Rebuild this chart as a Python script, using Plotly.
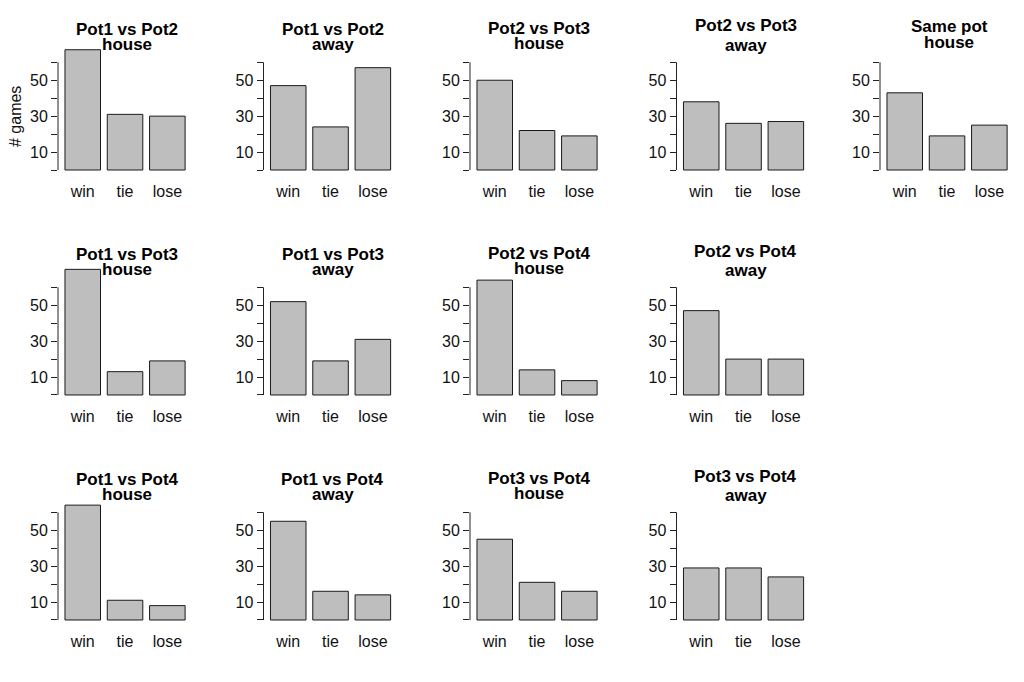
import plotly.graph_objects as go

# ---------------- data ----------------
categories = ["win", "tie", "lose"]

titles_line1 = [
    "Pot1 vs Pot2", "Pot1 vs Pot2", "Pot2 vs Pot3", "Pot2 vs Pot3", "Same pot",
    "Pot1 vs Pot3", "Pot1 vs Pot3", "Pot2 vs Pot4", "Pot2 vs Pot4",
    "Pot1 vs Pot4", "Pot1 vs Pot4", "Pot3 vs Pot4", "Pot3 vs Pot4",
]
titles_line2 = [
    "house", "away", "house", "away", "house",
    "house", "away", "house", "away",
    "house", "away", "house", "away",
]

pot1_pot2_house = [67, 31, 30]
pot1_pot2_away = [47, 24, 57]
pot2_pot3_house = [50, 22, 19]
pot2_pot3_away = [38, 26, 27]
same_pot_house = [43, 19, 25]
pot1_pot3_house = [70, 13, 19]
pot1_pot3_away = [52, 19, 31]
pot2_pot4_house = [64, 14, 8]
pot2_pot4_away = [47, 20, 20]
pot1_pot4_house = [64, 11, 8]
pot1_pot4_away = [55, 16, 14]
pot3_pot4_house = [45, 21, 16]
pot3_pot4_away = [29, 29, 24]

panel_values = [
    pot1_pot2_house, pot1_pot2_away, pot2_pot3_house, pot2_pot3_away, same_pot_house,
    pot1_pot3_house, pot1_pot3_away, pot2_pot4_house, pot2_pot4_away,
    pot1_pot4_house, pot1_pot4_away, pot3_pot4_house, pot3_pot4_away,
]
panel_cells = [(0, 0), (0, 1), (0, 2), (0, 3), (0, 4),
               (1, 0), (1, 1), (1, 2), (1, 3),
               (2, 0), (2, 1), (2, 2), (2, 3)]

y_tick_vals = [0, 10, 20, 30, 40, 50, 60]
y_tick_text = ["", "10", "", "30", "", "50", ""]

# ---------------- layout geometry (pixels) ----------------
W, H = 1024, 682
COL_AXIS_X = [58, 263.5, 470, 676.5, 880]
ROW_ZERO_Y = [170, 395, 620]
ROW_STEP = 225
PPU_Y = 1.795          # pixels per count
CAT_PX = 42.3          # pixels per category
X_RANGE = [-0.585, 2.6]
Y_RANGE = [-1, 75]
TITLE_B1 = [35, 35, 34, 31.5, 31.7]
TITLE_B2 = [49.5, 49.5, 48.5, 51, 48.3]

FONT = "Liberation Sans, Arial, Helvetica, sans-serif"
TITLE_FS = 17
TICK_FS = 16

fig = go.Figure()
annotations = []
shapes = []
layout_axes = {}

for i, (vals, (r, c)) in enumerate(zip(panel_values, panel_cells), start=1):
    xa = "x" if i == 1 else f"x{i}"
    ya = "y" if i == 1 else f"y{i}"
    fig.add_trace(go.Bar(
        x=categories, y=vals, xaxis=xa, yaxis=ya, width=0.84,
        marker=dict(color="#BEBEBE", line=dict(color="#1a1a1a", width=1)),
        showlegend=False, hoverinfo="x+y",
    ))
    x0 = COL_AXIS_X[c]
    x1 = x0 + (X_RANGE[1] - X_RANGE[0]) * CAT_PX
    yb = ROW_ZERO_Y[r] - Y_RANGE[0] * PPU_Y
    yt = ROW_ZERO_Y[r] - Y_RANGE[1] * PPU_Y
    xkey = "xaxis" if i == 1 else f"xaxis{i}"
    ykey = "yaxis" if i == 1 else f"yaxis{i}"
    layout_axes[xkey] = dict(
        domain=[x0 / W, x1 / W], range=X_RANGE, anchor=ya,
        showgrid=False, zeroline=False, showline=False, ticks="",
        tickfont=dict(size=TICK_FS, color="#111", family=FONT),
        ticklabelstandoff=8, fixedrange=True,
    )
    layout_axes[ykey] = dict(
        domain=[1 - yb / H, 1 - yt / H], range=Y_RANGE, anchor=xa,
        showgrid=False, zeroline=False, showline=False,
        ticks="outside", ticklen=6, tickwidth=1, tickcolor="#222",
        tickvals=y_tick_vals, ticktext=y_tick_text,
        tickfont=dict(size=TICK_FS, color="#111", family=FONT),
        fixedrange=True,
    )
    # R-style axis line spanning only the tick range
    shapes.append(dict(
        type="line", xref=f"{xa} domain", yref=ya, x0=0, x1=0,
        y0=y_tick_vals[0], y1=y_tick_vals[-1],
        line=dict(color="#222", width=1),
    ))
    cx = (x0 + 69) / W
    base = r * ROW_STEP
    for txt, bl in ((titles_line1[i - 1], TITLE_B1[c]), (titles_line2[i - 1], TITLE_B2[c])):
        annotations.append(dict(
            text=f"<b>{txt}</b>", xref="paper", yref="paper",
            x=cx, y=1 - (base + bl + 6) / H, xanchor="center", yanchor="bottom",
            showarrow=False, font=dict(size=TITLE_FS, color="#000", family=FONT),
        ))

annotations.append(dict(
    text="# games", xref="paper", yref="paper", x=16 / W, y=1 - 117 / H,
    xanchor="center", yanchor="middle", textangle=-90, showarrow=False,
    font=dict(size=TICK_FS, color="#111", family=FONT),
))

fig.update_layout(
    width=W, height=H, margin=dict(l=0, r=0, t=0, b=0),
    paper_bgcolor="white", plot_bgcolor="rgba(0,0,0,0)",
    font=dict(family=FONT, color="#111"),
    annotations=annotations, shapes=shapes, bargap=0,
    hovermode=False,
    **layout_axes,
)

fig.write_html(
    "out.html",
    config={"displayModeBar": False, "staticPlot": True},
    post_script="document.body.style.margin='0';document.body.style.overflow='hidden';",
)
